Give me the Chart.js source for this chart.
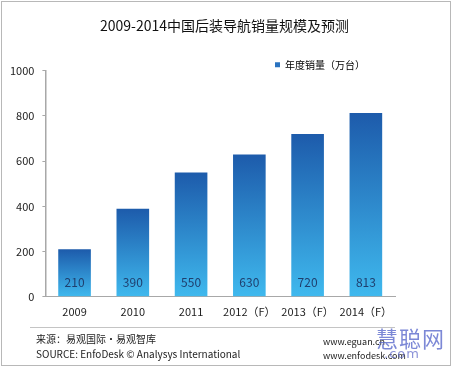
<!DOCTYPE html>
<html>
<head>
<meta charset="utf-8">
<script src="https://cdn.jsdelivr.net/npm/chart.js@4.4.1/dist/chart.umd.min.js"></script>
<style>
  html, body { margin: 0; padding: 0; background: #fff; }
  #wrap { position: relative; width: 452px; height: 367px; overflow: hidden; }
  #frame { position: absolute; left: 1px; top: 1px; width: 448px; height: 363px; border: 1px solid #b8b8b8; pointer-events: none; }
  canvas { position: absolute; left: 0; top: 0; }
  .foot { position: absolute; font-family: "Noto Sans CJK SC", "Noto Sans", sans-serif; font-size: 10px; color: #222; white-space: nowrap; line-height: 12px; }
  #sep { position: absolute; left: 30px; top: 327px; width: 365px; height: 1px; background: #c4c4c4; }
  #mark { position: absolute; left: 376px; top: 321px; font-family: "Noto Sans CJK SC", sans-serif; font-size: 22px; color: rgba(80, 96, 200, 0.75); letter-spacing: 1px; }
  #mark2 { position: absolute; left: 384px; top: 346px; font-family: "DejaVu Sans", sans-serif; font-size: 13px; color: rgba(90, 100, 200, 0.7); letter-spacing: 1px; }
</style>
</head>
<body>
<div id="wrap">
  <canvas id="navChart" width="452" height="367"></canvas>
  <div id="sep"></div>
  <div class="foot" style="left:36px; top:333px;">来源：易观国际·易观智库</div>
  <div class="foot" style="left:36px; top:348px;">SOURCE: EnfoDesk © Analysys International</div>
  <div class="foot" style="left:323px; top:336px; font-size:9px;">www.eguan.cn</div>
  <div class="foot" style="left:323px; top:350px; font-size:9px;">www.enfodesk.com</div>
  <div id="mark">慧聪网</div>
  <div id="mark2">.com</div>
  <div id="frame"></div>
</div>
<script>
// 数据
const years = ['2009', '2010', '2011', '2012（F）', '2013（F）', '2014（F）'];
const sales = [210, 390, 550, 630, 720, 813];
const yTicks = [0, 200, 400, 600, 800, 1000];

const FONT = '"Noto Sans CJK SC", "Noto Sans", sans-serif';
const COLORS = {
    top: '#1d5bab',
    bottom: '#3fb9ee',
    label: '#1f3f6e',
    text: '#222222',
    axis: '#a8a8a8'
};

// 每根柱子单独的竖向渐变
function barGradient(ctx) {
    const chart = ctx.chart;
    if (!chart.chartArea || ctx.raw === undefined) return COLORS.bottom;
    const y = chart.scales.y;
    const top = y.getPixelForValue(ctx.raw);
    const base = y.getPixelForValue(0);
    const g = chart.ctx.createLinearGradient(0, top, 0, base);
    g.addColorStop(0, COLORS.top);
    g.addColorStop(1, COLORS.bottom);
    return g;
}

// 柱内底部数值
const valueLabels = {
    id: 'valueLabels',
    afterDatasetsDraw(chart) {
        const ctx = chart.ctx;
        const meta = chart.getDatasetMeta(0);
        ctx.save();
        ctx.font = '12px ' + FONT;
        ctx.fillStyle = COLORS.label;
        ctx.textAlign = 'center';
        ctx.textBaseline = 'middle';
        meta.data.forEach((bar, i) => {
            ctx.fillText(String(sales[i]), bar.x, bar.base - 14);
        });
        ctx.restore();
    }
};

// 标题居中到整张图，图例往左下挪一点
const blockShift = {
    id: 'blockShift',
    afterLayout(chart) {
        const tb = chart.titleBlock;
        if (tb) { tb.left += 26; tb.right += 26; }
        const lg = chart.legend;
        if (lg) {
            lg.left -= 28; lg.right -= 28;
            lg.top += 9; lg.bottom += 9;
        }
    }
};

new Chart(document.getElementById('navChart'), {
    type: 'bar',
    data: {
        labels: years,
        datasets: [{
            label: '年度销量（万台）',
            data: sales,
            backgroundColor: barGradient,
            borderWidth: 0,
            barPercentage: 0.56,
            categoryPercentage: 1
        }]
    },
    options: {
        responsive: false,
        animation: false,
        layout: { padding: { left: 2, right: 57, bottom: 41 } },
        plugins: {
            title: {
                display: true,
                text: '2009-2014中国后装导航销量规模及预测',
                color: '#111',
                font: { family: FONT, size: 14, weight: 'normal' },
                padding: { top: 17, bottom: 15 }
            },
            legend: {
                position: 'top',
                align: 'end',
                labels: {
                    boxWidth: 5,
                    boxHeight: 5,
                    padding: 2,
                    color: COLORS.text,
                    font: { family: FONT, size: 10 },
                    generateLabels: () => [{
                        text: '年度销量（万台）',
                        fillStyle: '#2a73c0',
                        strokeStyle: '#2a73c0',
                        lineWidth: 0,
                        datasetIndex: 0
                    }]
                }
            },
            tooltip: { enabled: false }
        },
        scales: {
            x: {
                grid: { display: false, drawTicks: false },
                border: { color: COLORS.axis, width: 1 },
                ticks: { color: COLORS.text, font: { family: FONT, size: 11 }, padding: 8, maxRotation: 0 }
            },
            y: {
                min: 0,
                max: 1000,
                afterBuildTicks: (scale) => { scale.ticks = yTicks.map(v => ({ value: v })); },
                grid: { drawOnChartArea: false, drawTicks: true, tickLength: 3, color: COLORS.axis },
                border: { color: COLORS.axis, width: 1.5 },
                ticks: { color: COLORS.text, font: { family: FONT, size: 11 }, padding: 8, callback: (v) => String(v) }
            }
        }
    },
    plugins: [valueLabels, blockShift]
});
</script>
</body>
</html>
